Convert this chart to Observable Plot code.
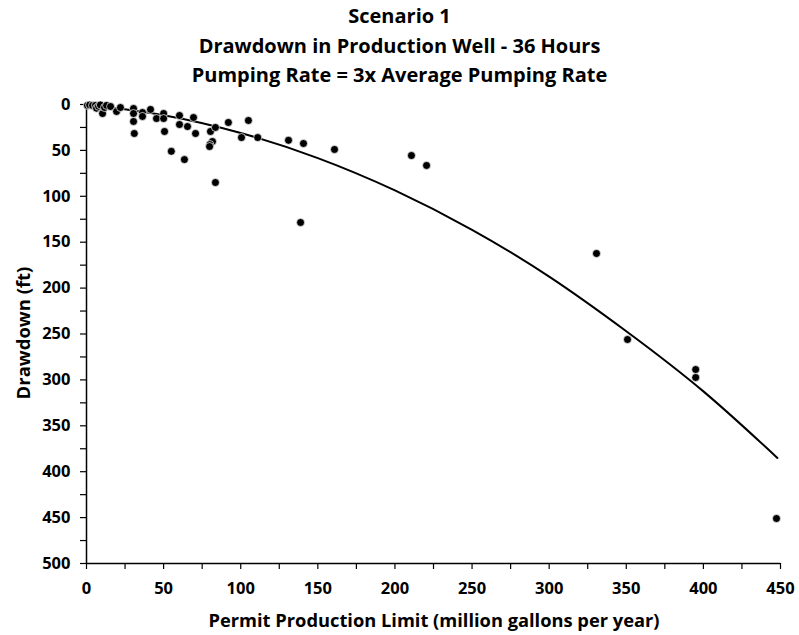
<!DOCTYPE html>
<html><head><meta charset="utf-8">
<script src="https://cdn.jsdelivr.net/npm/d3@7"></script>
<script src="https://cdn.jsdelivr.net/npm/@observablehq/plot@0.6"></script>
<style>
body{margin:0;background:#fff;}
#wrap{position:relative;width:799px;height:635px;font-family:"Open Sans", Lato, sans-serif;color:#000;}
#title{position:absolute;left:0;top:1px;width:799px;text-align:center;font-weight:bold;font-size:20px;line-height:29.5px;}
#xlabel{position:absolute;left:434px;top:619px;transform:translate(-50%,-50%);white-space:nowrap;font-weight:bold;font-size:18.3px;}
#ylabel{position:absolute;left:22px;top:333px;transform:translate(-50%,-50%) rotate(-90deg);white-space:nowrap;font-weight:bold;font-size:18.5px;}
#chart{position:absolute;left:0;top:0;}
</style></head><body>
<div id="wrap">
<div id="chart"></div>
<div id="title"><div>Scenario 1</div><div>Drawdown in Production Well - 36 Hours</div><div>Pumping Rate = 3x Average Pumping Rate</div></div>
<div id="xlabel">Permit Production Limit (million gallons per year)</div>
<div id="ylabel">Drawdown (ft)</div>
</div>
<script>
// Observed wells: permit production limit (million gallons per year) and drawdown (ft)
const permitLimit = [0.6,2,3.9,5.8,6.5,7.8,9,10.4,11.7,13,15.6,19.5,22,30.5,30.5,30.5,31,36.3,36.3,41.5,45.4,50,50,50.6,55,60.3,60.3,63.5,65.5,69.4,70.7,80.4,81.7,80,79.8,83.6,83.6,92,100.5,105,111,131,140.7,160.8,138.8,210.7,220.5,330.7,350.8,395,395,447.4];
const drawdown    = [1,0.5,1,1,4,2,0.5,9.8,3.3,1,2.2,7.6,3.3,4.4,9.8,18.5,31.6,8.7,13,5.4,15.3,9.8,15.3,29.4,51,12,21.8,60,24,14.2,31.6,29.4,40.3,43.6,45.8,25,85,19.6,36,17.4,36,39,42.5,49,128.5,55.6,66.4,162.3,256,288.7,297.4,451];
// Trend curve
const trendX = [0,50,100,150,200,250,300,350,400,448];
const trendY = [0,11.6,31,58.4,93.6,136.5,187.5,247,312.5,385];
// Axis ticks
const xTicks = [0,50,100,150,200,250,300,350,400,450];
const xMinorTicks = [0,25,50,75,100,125,150,175,200,225,250,275,300,325,350,375,400,425,450];
const yTicks = [0,50,100,150,200,250,300,350,400,450,500];
const yMinorTicks = [0,25,50,75,100,125,150,175,200,225,250,275,300,325,350,375,400,425,450,475,500];

const points = permitLimit.map((x,i)=>({x, y: drawdown[i]}));
const trend = trendX.map((x,i)=>({x, y: trendY[i]}));

const chart = Plot.plot({
  width: 799, height: 635,
  marginLeft: 86, marginRight: 19, marginTop: 104, marginBottom: 72,
  style: {fontFamily: "'Open Sans', Lato, sans-serif", fontSize: "16.5px", fontWeight: "bold", color: "#000", background: "transparent"},
  x: {domain: [0,450]},
  y: {domain: [0,500], reverse: true},
  marks: [
    Plot.axisX({ticks: xMinorTicks, tickSize: 6, tickFormat: () => "", label: null, stroke: "#000", strokeWidth: 1.2}),
    Plot.axisX({ticks: xTicks, tickSize: 0, tickPadding: 19, label: null, fontSize: 16.5, fontWeight: "bold"}),
    Plot.axisY({ticks: yMinorTicks, tickSize: 6, tickFormat: () => "", label: null, stroke: "#000", strokeWidth: 1.2}),
    Plot.axisY({ticks: yTicks, tickSize: 0, tickPadding: 16, label: null, fontSize: 16.5, fontWeight: "bold"}),
    Plot.ruleX([0], {stroke: "#000", strokeWidth: 1.5}),
    Plot.ruleY([500], {stroke: "#000", strokeWidth: 1.5}),
    Plot.line(trend, {x: "x", y: "y", curve: "natural", stroke: "#000", strokeWidth: 2}),
    Plot.dot(points, {x: "x", y: "y", r: 4, fill: "#000", stroke: "#fff", strokeWidth: 0.7})
  ]
});
document.getElementById("chart").appendChild(chart);
</script>
</body></html>
